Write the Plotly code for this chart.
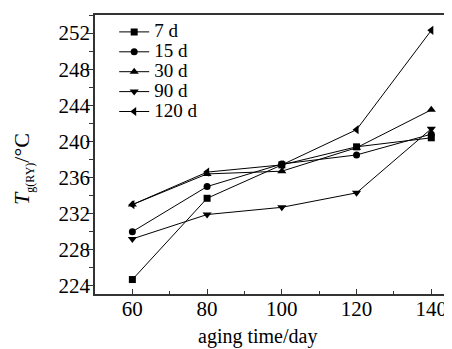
import plotly.graph_objects as go

aging_days = [60, 80, 100, 120, 140]
series_names = ["7 d", "15 d", "30 d", "90 d", "120 d"]
tg_7d = [224.7, 233.7, 237.4, 239.4, 240.4]
tg_15d = [230.0, 235.0, 237.5, 238.5, 240.8]
tg_30d = [233.0, 236.4, 236.7, 239.3, 243.5]
tg_90d = [229.2, 231.9, 232.7, 234.3, 241.4]
tg_120d = [233.0, 236.6, 237.4, 241.3, 252.3]
y_ticks = [224, 228, 232, 236, 240, 244, 248, 252]
x_ticks = [60, 80, 100, 120, 140]

series_values = [tg_7d, tg_15d, tg_30d, tg_90d, tg_120d]
symbols = ["square", "circle", "triangle-up", "triangle-down", "triangle-left"]
sizes = [7, 7, 8, 8, 8]

FONT = "Liberation Serif, Times New Roman, serif"

fig = go.Figure()
for name, vals, sym, sz in zip(series_names, series_values, symbols, sizes):
    fig.add_trace(go.Scatter(
        x=aging_days, y=vals,
        name="<span style='font-size:19px'>%s</span>" % name,
        mode="lines+markers",
        line=dict(color="black", width=1),
        marker=dict(symbol=sym, size=sz, color="black"),
    ))

# page has an 8px body margin, so the figure is 8px smaller and offset
fig.update_layout(
    width=444, height=341,
    margin=dict(l=87, r=5, t=5, b=55),
    paper_bgcolor="white", plot_bgcolor="white",
    font=dict(family=FONT, color="black", size=20),
    showlegend=True,
    legend=dict(x=0.055, y=0.993, xanchor="left", yanchor="top",
                bgcolor="rgba(0,0,0,0)", font=dict(size=13, family=FONT),
                itemwidth=30, tracegroupgap=0),
)

fig.update_xaxes(
    range=[50, 143.4], tickvals=x_ticks, ticks="inside", ticklen=5,
    tickcolor="#333", tickwidth=1, ticklabelstandoff=-5,
    minor=dict(dtick=10, tick0=50, ticks="inside", ticklen=3, tickcolor="#333"),
    showline=True, mirror=True, linecolor="#333", linewidth=1.5,
    showgrid=False, zeroline=False, tickfont=dict(size=21, family=FONT),
)
fig.update_yaxes(
    range=[223.1, 254], tickvals=y_ticks, ticks="outside", ticklen=7,
    tickcolor="#333", tickwidth=1, ticklabelstandoff=-8,
    minor=dict(dtick=2, tick0=224, ticks="outside", ticklen=4, tickcolor="#333"),
    showline=True, mirror=True, linecolor="#333", linewidth=1.5,
    showgrid=False, zeroline=False, tickfont=dict(size=21, family=FONT),
)

fig.add_annotation(
    text="aging time/day", xref="paper", yref="paper",
    x=0.465, y=-0.105, xanchor="center", yanchor="top", showarrow=False,
    font=dict(size=20, family=FONT),
)
fig.add_annotation(
    text="<i>T</i><sub><span style='font-size:12px'>g(RY)</span></sub>/°C",
    xref="paper", yref="paper",
    x=-0.205, y=0.45, xanchor="center", yanchor="middle", showarrow=False,
    textangle=-90, font=dict(size=22, family=FONT),
)

fig.write_html("out.html")
